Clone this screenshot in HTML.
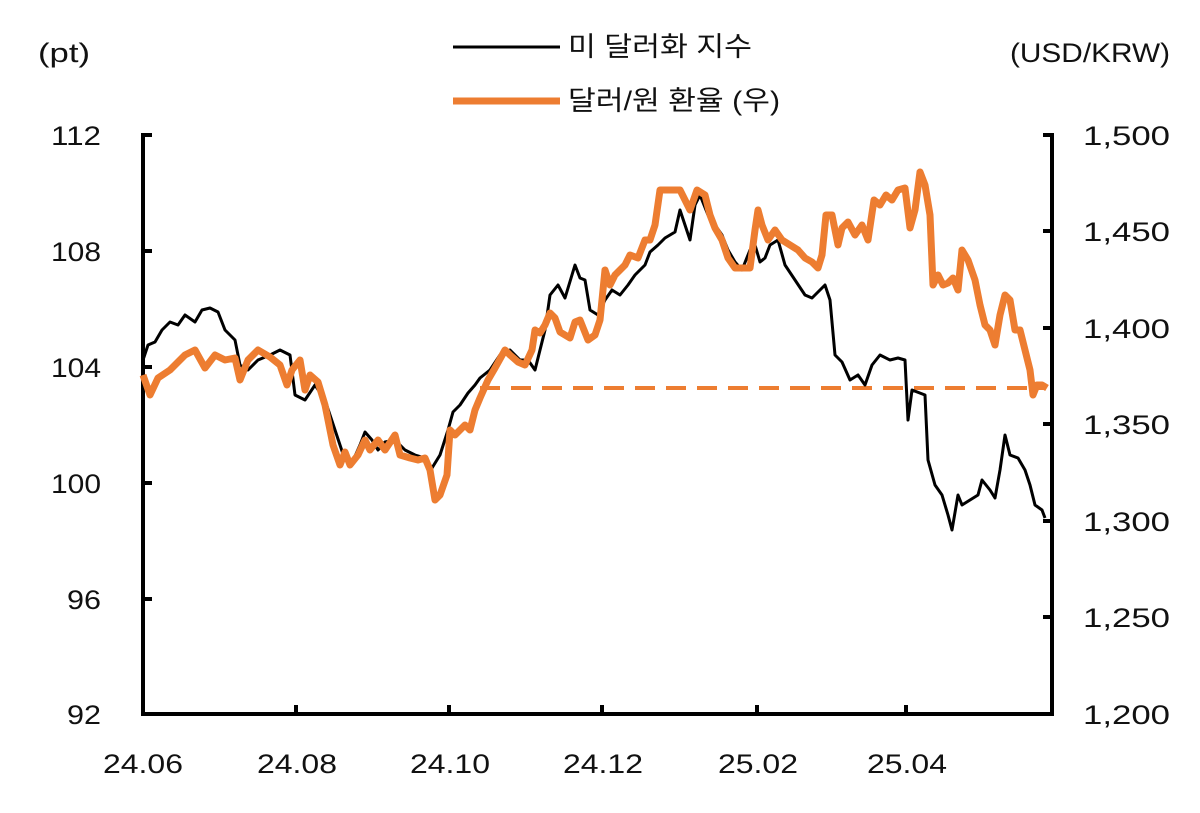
<!DOCTYPE html>
<html><head><meta charset="utf-8"><style>
body{margin:0;background:#fff}
svg text{font-family:"Liberation Sans","Noto Sans CJK KR",sans-serif;font-size:27px;fill:#111}
</style></head><body>
<svg width="1200" height="808" viewBox="0 0 1200 808" xmlns="http://www.w3.org/2000/svg">
<rect width="1200" height="808" fill="#fff"/>
<g stroke="#000" stroke-width="4" fill="none">
<path d="M143,133V714H1052V133"/>
<path d="M143,135h9M143,251h9M143,367h9M143,483h9M143,599h9"/>
<path d="M1052,135h-9M1052,231h-9M1052,328h-9M1052,424h-9M1052,521h-9M1052,617h-9"/>
<path d="M296,714v-9M449,714v-9M602,714v-9M757,714v-9M906,714v-9"/>
</g>
<g text-anchor="end" lengthAdjust="spacingAndGlyphs">
<text x="101" y="145" textLength="50" lengthAdjust="spacingAndGlyphs">112</text><text x="101" y="261" textLength="50" lengthAdjust="spacingAndGlyphs">108</text><text x="101" y="377" textLength="50" lengthAdjust="spacingAndGlyphs">104</text><text x="101" y="493" textLength="50" lengthAdjust="spacingAndGlyphs">100</text><text x="101" y="609" textLength="34" lengthAdjust="spacingAndGlyphs">96</text><text x="101" y="724" textLength="34" lengthAdjust="spacingAndGlyphs">92</text>
</g>
<g>
<text x="1083" y="145" textLength="87" lengthAdjust="spacingAndGlyphs">1,500</text><text x="1083" y="241" textLength="87" lengthAdjust="spacingAndGlyphs">1,450</text><text x="1083" y="338" textLength="87" lengthAdjust="spacingAndGlyphs">1,400</text><text x="1083" y="434" textLength="87" lengthAdjust="spacingAndGlyphs">1,350</text><text x="1083" y="531" textLength="87" lengthAdjust="spacingAndGlyphs">1,300</text><text x="1083" y="627" textLength="87" lengthAdjust="spacingAndGlyphs">1,250</text><text x="1083" y="724" textLength="87" lengthAdjust="spacingAndGlyphs">1,200</text>
</g>
<g>
<text x="103" y="773" textLength="80" lengthAdjust="spacingAndGlyphs">24.06</text><text x="257" y="773" textLength="80" lengthAdjust="spacingAndGlyphs">24.08</text><text x="410" y="773" textLength="80" lengthAdjust="spacingAndGlyphs">24.10</text><text x="563" y="773" textLength="80" lengthAdjust="spacingAndGlyphs">24.12</text><text x="718" y="773" textLength="80" lengthAdjust="spacingAndGlyphs">25.02</text><text x="867" y="773" textLength="80" lengthAdjust="spacingAndGlyphs">25.04</text>
</g>
<text x="38" y="62" textLength="52" lengthAdjust="spacingAndGlyphs">(pt)</text>
<text x="1010" y="62" textLength="160" lengthAdjust="spacingAndGlyphs">(USD/KRW)</text>
<line x1="453" y1="47" x2="560" y2="47" stroke="#000" stroke-width="3"/>
<text x="568" y="56" textLength="184" lengthAdjust="spacingAndGlyphs">미 달러화 지수</text>
<line x1="453" y1="101" x2="560" y2="101" stroke="#ED7D31" stroke-width="7"/>
<text x="568" y="110" textLength="212" lengthAdjust="spacingAndGlyphs">달러/원 환율 (우)</text>
<line x1="480" y1="388" x2="1045" y2="388" stroke="#ED7D31" stroke-width="4" stroke-dasharray="20,11"/>
<polyline fill="none" stroke="#000" stroke-width="3" stroke-linejoin="round" points="143,360 148,345 155,342 162,330 170,322 178,325 185,315 195,322 202,310 210,308 218,312 225,330 235,340 240,365 248,370 258,360 270,355 280,350 290,355 295,395 305,400 315,385 325,400 335,430 345,460 352,463 360,445 365,432 372,440 378,450 385,442 395,440 405,450 415,455 425,458 432,468 440,455 448,430 453,412 460,405 468,393 475,385 480,378 490,370 500,355 510,350 520,360 528,360 535,370 540,350 545,330 550,295 558,285 565,298 575,265 580,278 585,280 590,310 598,315 605,300 612,290 620,295 628,285 635,275 645,265 650,252 658,245 665,238 675,232 680,210 685,225 690,240 695,205 700,195 708,215 715,225 722,235 728,250 735,262 742,270 750,250 755,245 760,262 765,258 770,245 778,240 785,265 795,280 805,295 812,298 818,292 825,285 830,300 835,355 842,362 850,380 858,375 865,385 872,365 880,355 890,360 898,358 905,360 908,420 912,390 925,395 928,460 935,485 942,495 948,515 952,530 958,495 962,505 970,500 978,495 982,480 990,490 995,498 1000,470 1005,435 1010,455 1018,458 1025,470 1030,485 1035,505 1042,510 1045,518"/>
<polyline fill="none" stroke="#ED7D31" stroke-width="7" stroke-linejoin="round" points="143,375 150,395 158,378 170,370 185,355 195,350 205,368 215,355 225,360 235,358 240,380 248,360 258,350 270,357 280,365 287,385 292,370 300,360 305,390 310,375 318,382 325,405 333,445 340,465 345,452 350,465 358,455 365,440 370,450 378,440 385,450 395,435 400,455 410,458 418,460 425,458 430,470 435,500 440,495 447,475 450,430 455,435 465,425 470,430 475,410 480,398 488,380 495,368 505,350 510,355 518,362 525,365 532,350 535,330 540,333 545,325 550,313 555,318 560,332 570,338 575,322 580,320 588,340 595,335 600,320 605,270 610,285 615,275 620,270 625,265 630,255 638,258 645,240 650,240 655,225 660,190 670,190 680,190 685,200 690,210 697,190 705,195 710,215 715,228 722,240 728,258 735,268 740,268 750,268 755,230 758,210 762,225 768,240 775,230 782,240 790,245 798,250 805,258 812,262 818,268 822,255 826,215 832,215 838,245 842,228 848,222 855,235 862,225 868,240 874,200 880,205 886,195 892,200 898,190 905,188 910,228 915,210 920,172 925,185 930,215 933,285 938,275 943,285 948,283 953,278 958,290 962,250 968,260 975,280 980,305 985,325 990,330 995,345 1000,315 1005,295 1010,300 1015,330 1020,330 1025,350 1030,370 1033,395 1037,385 1042,385 1047,388"/>
</svg>
</body></html>
